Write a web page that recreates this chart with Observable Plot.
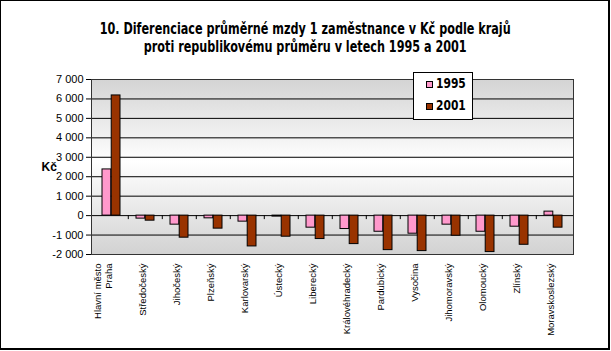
<!DOCTYPE html>
<html>
<head>
<meta charset="utf-8">
<script src="https://cdn.jsdelivr.net/npm/d3@7"></script>
<script src="https://cdn.jsdelivr.net/npm/@observablehq/plot@0.6"></script>
<style>
  html, body { margin: 0; padding: 0; background: #fff; }
  #wrap { position: relative; width: 611px; height: 351px; overflow: hidden; font-family: "Liberation Sans", Arial, sans-serif; }
  #border { position: absolute; left: 0; top: 0; width: 610px; height: 350px; box-sizing: border-box; border: 2px solid #000; border-left-width: 1px; border-top-width: 1px; pointer-events: none; }
  .tl { position: absolute; left: 0; width: 611px; text-align: center; font-family: "Liberation Sans Narrow", "DejaVu Sans Condensed", "Arial Narrow", sans-serif; font-weight: bold; font-size: 15px; line-height: 18px; color: #000; white-space: nowrap; }
  .tl span { display: inline-block; transform-origin: 50% 50%; }
  #chart { position: absolute; left: 0; top: 0; }
  #legend { position: absolute; left: 413px; top: 72px; width: 60px; height: 48px; box-sizing: border-box; background: #fff; border: 1px solid #000; font-family: "Liberation Sans Narrow", "DejaVu Sans Condensed", "Arial Narrow", sans-serif; font-weight: bold; font-size: 14px; }
  .lt { position: absolute; left: 22px; height: 14px; line-height: 14px; white-space: nowrap; transform: scaleX(0.85); transform-origin: 0 50%; }
  .sw { position: absolute; left: 12px; width: 5px; height: 5px; border: 1px solid #000; }
</style>
</head>
<body>
<div id="wrap">
  <div id="chart"></div>
  <div class="tl" style="top:20px"><span id="t1">10. Diferenciace průměrné mzdy 1 zaměstnance v Kč podle krajů</span></div>
  <div class="tl" style="top:38px"><span id="t2">proti republikovému průměru v letech 1995 a 2001</span></div>
  <div id="legend"></div>
  <div id="border"></div>
</div>
<script>
const categories = ["Hlavní město\nPraha", "Středočeský", "Jihočeský", "Plzeňský", "Karlovarský", "Ústecký", "Liberecký", "Královéhradecký", "Pardubický", "Vysočina", "Jihomoravský", "Olomoucký", "Zlínský", "Moravskoslezský"];
const series = ["1995", "2001"];
const values1995 = [2375, -155, -465, -140, -310, -50, -620, -690, -830, -930, -465, -830, -570, 205];
const values2001 = [6180, -260, -1135, -670, -1585, -1085, -1205, -1465, -1775, -1825, -1035, -1875, -1500, -620];
const yTicks = [-2000, -1000, 0, 1000, 2000, 3000, 4000, 5000, 6000, 7000];
const yLabel = "Kč";
const colors = ["#FF99CC", "#993300"];

const data = categories.map((c, i) => ({cat: c, v1995: values1995[i], v2001: values2001[i]}));

const W = 611, H = 351, mL = 91, mR = 38, mT = 79, mB = 97;
const pIn = 0.465, pOut = pIn / 2;
const step = (W - mL - mR) / categories.length;
const half = step * (1 - pIn) / 2;

const loc = d3.formatLocale({decimal: ",", thousands: " ", grouping: [3], currency: ["", ""], minus: "-"});
const fmt = loc.format(",");

const svg = Plot.plot({
  width: W, height: H,
  marginLeft: mL, marginRight: mR, marginTop: mT, marginBottom: mB,
  style: {fontFamily: "'Liberation Sans', Arial, sans-serif", fontSize: "11px", color: "#000", background: "transparent"},
  x: {type: "band", domain: categories, paddingInner: pIn, paddingOuter: pOut, axis: null},
  y: {domain: [-2000, 7000], ticks: yTicks, tickFormat: fmt, tickSize: 5, tickPadding: 3, label: null},
  marks: [
    Plot.frame({fill: "url(#bgGrad)", stroke: null}),
    Plot.ruleY(yTicks, {stroke: "#000", strokeWidth: 1}),
    Plot.barY(data, {x: "cat", y: "v1995", fill: colors[0], stroke: "#000", strokeWidth: 1, insetRight: half}),
    Plot.barY(data, {x: "cat", y: "v2001", fill: colors[1], stroke: "#000", strokeWidth: 1, insetLeft: half}),
    Plot.ruleX(categories.slice(1), {x: d => d, dx: -step / 2, y1: 0, y2: 0, insetBottom: -4, stroke: "#000"}),
    Plot.frame({stroke: "#333", fill: null}),
    Plot.text(categories, {x: d => d, text: d => d, frameAnchor: "bottom", dy: 9, rotate: -90, textAnchor: "end", fontSize: 9.5, lineHeight: 1.15}),
    Plot.text([yLabel], {text: d => d, frameAnchor: "left", dx: -50, fontWeight: "bold", fontSize: 12})
  ]
});

d3.select(svg).insert("defs", ":first-child").html(
  '<linearGradient id="bgGrad" x1="0" y1="0" x2="0" y2="1">' +
  '<stop offset="0" stop-color="#d4d4d4"/>' +
  '<stop offset="0.47" stop-color="#ffffff"/>' +
  '<stop offset="1" stop-color="#d2d2d2"/>' +
  '</linearGradient>'
);
document.getElementById("chart").appendChild(svg);

// condense the title to the narrow face of the reference
const t1 = document.getElementById("t1"), t2 = document.getElementById("t2");
const k = 411 / t1.getBoundingClientRect().width;
t1.style.transform = "scaleX(" + k + ")";
t2.style.transform = "scaleX(" + k + ")";

const legend = document.getElementById("legend");
series.forEach((s, i) => {
  const sw = document.createElement("div");
  sw.className = "sw";
  sw.style.top = (8 + i * 21.5) + "px";
  sw.style.background = colors[i];
  legend.appendChild(sw);
  const t = document.createElement("div");
  t.className = "lt";
  t.style.top = (3 + i * 22) + "px";
  t.textContent = s;
  legend.appendChild(t);
});
</script>
</body>
</html>
